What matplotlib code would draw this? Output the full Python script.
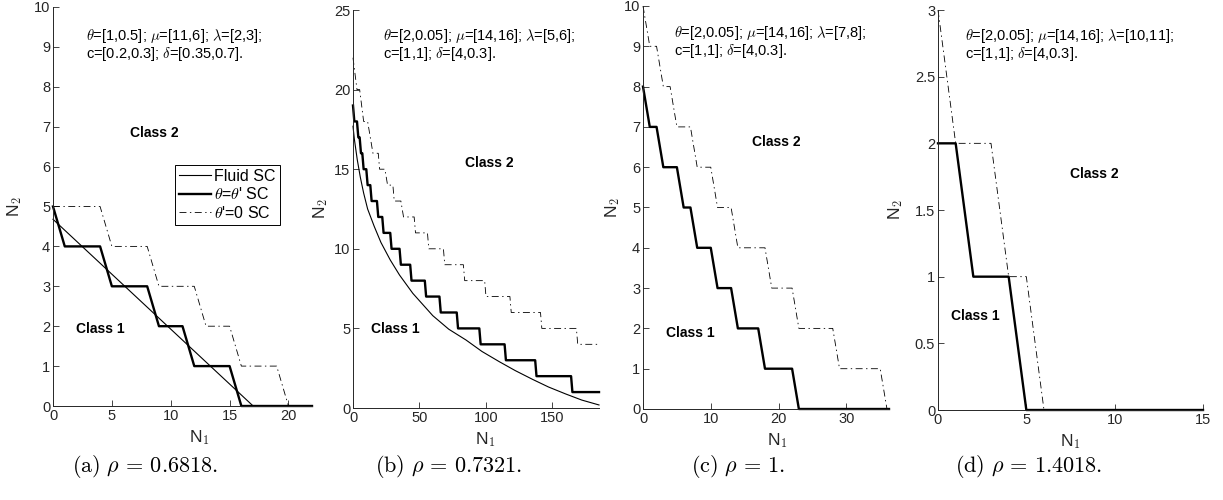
import numpy as np
import matplotlib
matplotlib.use("Agg")
import matplotlib.pyplot as plt

plt.rcParams['font.family'] = 'Liberation Sans'
plt.rcParams['mathtext.fontset'] = 'cm'
plt.rcParams['lines.scale_dashes'] = False

# ---- data ----
# (a) rho = 0.6818
a_fluid_x = [0, 17, 22]
a_fluid_y = [4.68, 0, 0]
a_opt_x = [0, 1, 4, 5, 8, 9, 11, 12, 15, 16, 22]
a_opt_y = [5, 4, 4, 3, 3, 2, 2, 1, 1, 0, 0]
a_zero_x = [0, 4, 5, 8, 9, 12, 13, 15, 16, 19, 20, 22]
a_zero_y = [5, 5, 4, 4, 3, 3, 2, 2, 1, 1, 0, 0]

# (b) rho = 0.7321
b_fluid_x = [0, 1, 3.2, 5.5, 8, 11, 16, 21, 28, 35, 45, 60, 72, 85, 97, 110, 122, 135, 147, 160, 172, 185]
b_fluid_y = [17.7, 16.9, 15.6, 14.5, 13.5, 12.5, 11.4, 10.4, 9.3, 8.35, 7.2, 5.8, 4.95, 4.27, 3.55,
             2.91, 2.35, 1.8, 1.32, 0.88, 0.5, 0.19]
b_opt_x = [0, 1, 3, 4, 5, 6, 7, 8, 10, 11, 13, 14, 18, 19, 22, 23, 28, 29, 35, 36, 43,
           44, 54, 55, 65, 66, 78, 79, 95, 96, 114, 115, 137, 138, 164, 165, 185]
b_opt_y = [19, 18, 18, 17, 17, 16, 16, 15, 15, 14, 14, 13, 13, 12, 12, 11, 11, 10, 10, 9, 9,
           8, 8, 7, 7, 6, 6, 5, 5, 4, 4, 3, 3, 2, 2, 1, 1]
b_zero_x = [0, 3, 5, 8, 11, 15, 19, 20, 24, 26, 30, 31, 36, 38, 46, 47, 56, 57, 68, 69, 83,
            84, 99, 100, 118, 119, 141, 142, 168, 169, 185]
b_zero_y = [22, 20, 20, 18, 18, 16, 16, 15, 15, 14, 14, 13, 13, 12, 12, 11, 11, 10, 10, 9, 9,
            8, 8, 7, 7, 6, 6, 5, 5, 4, 4]

# (c) rho = 1
c_opt_x = [0, 1, 2, 3, 5, 6, 7, 8, 10, 11, 13, 14, 17, 18, 22, 23, 36.3]
c_opt_y = [8, 7, 7, 6, 6, 5, 5, 4, 4, 3, 3, 2, 2, 1, 1, 0, 0]
c_zero_x = [0, 1, 2, 3, 4, 5, 7, 8, 10, 11, 13, 14, 18, 19, 22, 23, 28, 29, 35, 36, 36.3]
c_zero_y = [10, 9, 9, 8, 8, 7, 7, 6, 6, 5, 5, 4, 4, 3, 3, 2, 2, 1, 1, 0, 0]

# (d) rho = 1.4018
d_opt_x = [0, 1, 2, 4, 5, 15]
d_opt_y = [2, 2, 1, 1, 0, 0]
d_zero_x = [0, 1, 3, 4, 5, 6, 15]
d_zero_y = [3, 2, 2, 1, 1, 0, 0]

params = [
    "$\\theta$=[1,0.5]; $\\mu$=[11,6]; $\\lambda$=[2,3];\nc=[0.2,0.3]; $\\delta$=[0.35,0.7].",
    "$\\theta$=[2,0.05]; $\\mu$=[14,16]; $\\lambda$=[5,6];\nc=[1,1]; $\\delta$=[4,0.3].",
    "$\\theta$=[2,0.05]; $\\mu$=[14,16]; $\\lambda$=[7,8];\nc=[1,1]; $\\delta$=[4,0.3].",
    "$\\theta$=[2,0.05]; $\\mu$=[14,16]; $\\lambda$=[10,11];\nc=[1,1]; $\\delta$=[4,0.3].",
]
captions = [r"$\mathrm{(a)}\ \rho\, =\, 0.6818.$", r"$\mathrm{(b)}\ \rho\, =\, 0.7321.$",
            r"$\mathrm{(c)}\ \rho\, =\, 1.$", r"$\mathrm{(d)}\ \rho\, =\, 1.4018.$"]

gray = '#262626'
dashdot = (0, (5, 2.5, 1, 2.5))

fig = plt.figure(figsize=(12.23, 5), dpi=100)

# axes boxes in pixels: left, top, right, bottom
boxes = [(53, 7, 312, 406), (353, 10, 599, 408), (643, 6, 889, 409), (938, 10, 1203, 410)]
axes = []
for l, t, r, b in boxes:
    ax = fig.add_axes([l / 1223, (500 - b) / 500, (r - l) / 1223, (b - t) / 500])
    axes.append(ax)

fluids = [(a_fluid_x, a_fluid_y), (b_fluid_x, b_fluid_y), None, None]
opts = [(a_opt_x, a_opt_y), (b_opt_x, b_opt_y), (c_opt_x, c_opt_y), (d_opt_x, d_opt_y)]
zeros = [(a_zero_x, a_zero_y), (b_zero_x, b_zero_y), (c_zero_x, c_zero_y), (d_zero_x, d_zero_y)]

xlims = [22, 185, 36.3, 15]
ylims = [10, 25, 10, 3]
xticks = [[0, 5, 10, 15, 20], [0, 50, 100, 150], [0, 10, 20, 30], [0, 5, 10, 15]]
yticks = [np.arange(0, 11, 1), np.arange(0, 26, 5), np.arange(0, 11, 1), np.arange(0, 3.01, 0.5)]
param_xy = [(2.8, 9.05), (22.7, 22.8), (4.57, 9.11), (1.53, 2.74)]
class2_xy = [(8.6, 6.84), (102.7, 15.37), (19.6, 6.63), (8.87, 1.77)]
class1_xy = [(4.0, 1.92), (32, 4.94), (6.93, 1.89), (2.09, 0.705)]
ylab_x = [-0.15, -0.134, -0.122, -0.162]
xlab_x = [0.566, 0.537, 0.547, 0.5]
cap_x = [145, 449, 738, 1029]

for i, ax in enumerate(axes):
    if fluids[i] is not None:
        ax.plot(fluids[i][0], fluids[i][1], color='k', lw=0.8, clip_on=False, label='Fluid SC')
    ax.plot(opts[i][0], opts[i][1], color='k', lw=1.7, clip_on=False, label="$\\theta$=$\\theta$' SC")
    ax.plot(zeros[i][0], zeros[i][1], color='k', lw=0.6, linestyle=dashdot, clip_on=False,
            label="$\\theta$'=0 SC")

    ax.set_xlim(0, xlims[i])
    ax.set_ylim(0, ylims[i])
    ax.set_xticks(xticks[i])
    ax.set_yticks(yticks[i])
    ax.set_yticklabels([f"{v:g}" for v in yticks[i]])
    for s in ['top', 'right']:
        ax.spines[s].set_visible(False)
    for s in ['left', 'bottom']:
        ax.spines[s].set_color(gray)
        ax.spines[s].set_linewidth(0.7)
    ax.tick_params(direction='in', length=4, width=0.6, colors=gray, labelsize=10.5, pad=2)

    ax.set_ylabel("N$_2$", fontsize=12.5, color=gray, va='center')
    ax.yaxis.set_label_coords(ylab_x[i], 0.5)
    ax.set_xlabel("N$_1$", fontsize=12.5, color=gray)
    ax.xaxis.set_label_coords(xlab_x[i], -0.055)

    ax.text(param_xy[i][0], param_xy[i][1], params[i], fontsize=10.5, va='center', ha='left',
            linespacing=1.0)
    ax.text(class2_xy[i][0], class2_xy[i][1], "Class 2", fontsize=10, fontweight='bold',
            ha='center', va='center')
    ax.text(class1_xy[i][0], class1_xy[i][1], "Class 1", fontsize=10, fontweight='bold',
            ha='center', va='center')

    fig.text(cap_x[i] / 1223, 0.066, captions[i], fontsize=16, ha='center', va='center')

leg = axes[0].legend(loc='upper right', bbox_to_anchor=(0.876, 0.604), fontsize=11.5,
                     frameon=True, fancybox=False, framealpha=1, edgecolor='k',
                     borderpad=0.25, labelspacing=0.15, handlelength=2.0, handletextpad=0.2,
                     borderaxespad=0)
leg.get_frame().set_linewidth(0.7)

plt.savefig("out.png", dpi=100)
